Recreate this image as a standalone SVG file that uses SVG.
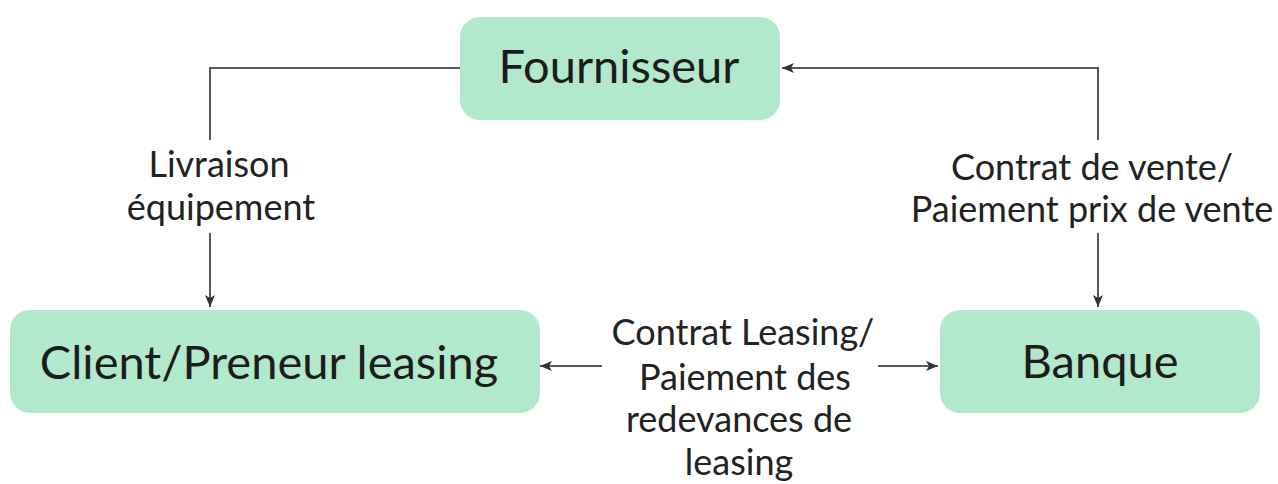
<svg xmlns="http://www.w3.org/2000/svg" width="1278" height="484" viewBox="0 0 1278 484">
  <style>
    .box { fill: #b2e8cc; }
    .node-text { font-family: Lato, "Open Sans", sans-serif; font-size: 47px; fill: #1c1c1c; text-anchor: middle; }
    .label { font-family: Lato, "Open Sans", sans-serif; font-size: 36px; fill: #222; text-anchor: middle; }
    .edge { fill: none; stroke: #5a5a5a; stroke-width: 2; }
  </style>
  <defs>
    <marker id="arrow" viewBox="0 0 12 10" refX="12" refY="5" markerWidth="12" markerHeight="10" markerUnits="userSpaceOnUse" orient="auto">
      <path d="M0,0 L12,5 L0,10 L3,5 Z" fill="#333"/>
    </marker>
  </defs>
  <rect width="1278" height="484" fill="#ffffff"/>

  <g id="connectors">
    <path class="edge" d="M460,68 H210 V140"/>
    <path class="edge" d="M210,233 V307" marker-end="url(#arrow)"/>
    <path class="edge" d="M1098,140 V68 H782" marker-end="url(#arrow)"/>
    <path class="edge" d="M1098,233 V307" marker-end="url(#arrow)"/>
    <path class="edge" d="M602,366 H540" marker-end="url(#arrow)"/>
    <path class="edge" d="M878,366 H938" marker-end="url(#arrow)"/>
  </g>

  <g id="node-fournisseur">
    <rect class="box" x="460" y="17" width="320" height="103" rx="20"/>
    <text class="node-text" x="619" y="83">Fournisseur</text>
  </g>
  <g id="node-client">
    <rect class="box" x="10" y="310" width="530" height="103" rx="20"/>
    <text class="node-text" x="269" y="379">Client/Preneur leasing</text>
  </g>
  <g id="node-banque">
    <rect class="box" x="940" y="310" width="320" height="103" rx="20"/>
    <text class="node-text" x="1100" y="378">Banque</text>
  </g>

  <g id="labels">
    <text class="label" x="219" y="177">Livraison</text>
    <text class="label" x="221" y="220">équipement</text>
    <text class="label" x="1092" y="180">Contrat de vente/</text>
    <text class="label" x="1092" y="222">Paiement prix de vente</text>
    <text class="label" x="743" y="345">Contrat Leasing/</text>
    <text class="label" x="745" y="390">Paiement des</text>
    <text class="label" x="739" y="432">redevances de</text>
    <text class="label" x="739" y="475">leasing</text>
  </g>
</svg>
